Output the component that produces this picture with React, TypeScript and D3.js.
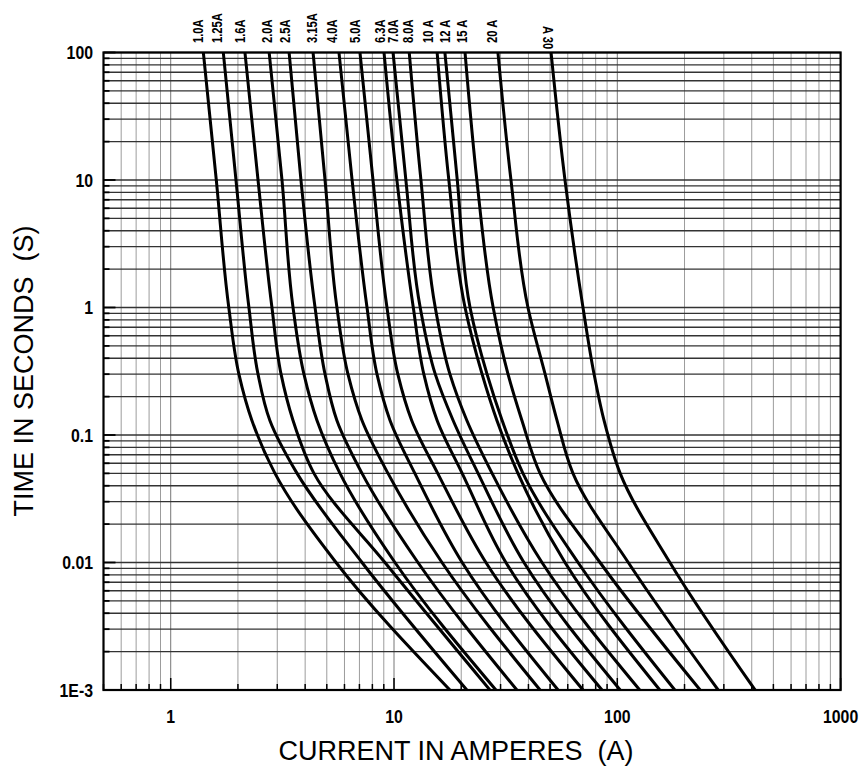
import React from "react";
import * as d3 from "d3";

const TIMES = [100, 10, 1, 0.3, 0.13, 0.05, 0.01, 0.001];

// Current (A) per fuse rating at the TIMES above
const I_1_0A = [1.40, 1.60, 1.82, 2.02, 2.31, 2.93, 5.50, 17.8];
const I_1_25A = [1.72, 1.96, 2.24, 2.46, 2.78, 3.68, 7.19, 21.2];
const I_1_6A = [2.15, 2.46, 2.84, 3.12, 3.53, 4.38, 9.11, 26.9];
const I_2_0A = [2.76, 3.15, 3.53, 3.95, 4.52, 5.73, 10.1, 28.6];
const I_2_5A = [3.39, 3.83, 4.43, 4.91, 5.55, 7.19, 12.8, 35.5];
const I_3_15A = [4.34, 4.91, 5.55, 6.22, 7.19, 9.40, 16.4, 45.1];
const I_4_0A = [5.67, 6.49, 7.57, 8.39, 9.60, 12.4, 20.2, 54.3];
const I_5_0A = [7.04, 8.05, 9.30, 10.4, 12.0, 15.7, 25.8, 70.2];
const I_6_3A = [9.02, 10.3, 12.2, 13.6, 15.6, 20.2, 31.7, 85.4];
const I_7_0A = [9.90, 11.3, 13.1, 15.3, 18.4, 23.8, 38.2, 103];
const I_8_0A = [11.7, 13.2, 15.3, 17.8, 21.2, 27.5, 46.0, 126];
const I_10A = [15.6, 17.6, 20.8, 24.8, 28.9, 35.9, 58.3, 155];
const I_12A = [16.9, 19.2, 21.9, 26.1, 30.5, 37.8, 66.7, 181];
const I_15A = [20.8, 23.5, 27.8, 32.4, 37.4, 45.1, 83.7, 235];
const I_20A = [29.2, 33.4, 39.8, 47.5, 53.7, 63.3, 112, 283];
const I_30A = [50.5, 58.3, 70.2, 78.7, 87.2, 103, 172, 414];

const FUSE_LABELS = [
  "1.0A", "1.25A", "1.6A", "2.0A", "2.5A", "3.15A", "4.0A", "5.0A",
  "6.3A", "7.0A", "8.0A", "10 A", "12 A", "15 A", "20 A", "A 30",
];
// Current (A) above which each rating label is centred
const LABEL_CURRENTS = [
  1.33, 1.61, 2.04, 2.70, 3.25, 4.29, 5.28, 6.69,
  8.66, 9.90, 11.55, 14.2, 16.9, 20.2, 27.5, 48.9,
];
const FUSE_CURRENTS = [
  I_1_0A, I_1_25A, I_1_6A, I_2_0A, I_2_5A, I_3_15A, I_4_0A, I_5_0A,
  I_6_3A, I_7_0A, I_8_0A, I_10A, I_12A, I_15A, I_20A, I_30A,
];

const X_TICKS = [1, 10, 100, 1000];
const X_TICK_LABELS = ["1", "10", "100", "1000"];
const Y_TICKS = [100, 10, 1, 0.1, 0.01, 0.001];
const Y_TICK_LABELS = ["100", "10", "1", "0.1", "0.01", "1E-3"];

const X_TITLE = "CURRENT IN AMPERES\u00A0\u00A0(A)";
const Y_TITLE = "TIME IN SECONDS\u00A0\u00A0(S)";

const W = 861;
const H = 770;
const L = 103.5;
const R = 840.6;
const T = 52.5;
const B = 690;

export default function App() {
  const x = d3.scaleLog().domain([0.5, 1000]).range([L, R]);
  const y = d3.scaleLog().domain([100, 0.001]).range([T, B]);

  const xGrid: number[] = [];
  [0.1, 1, 10, 100].forEach((d) => {
    for (let k = 1; k <= 9; k++) {
      const v = +(k * d).toPrecision(3);
      if (v >= 0.5 && v <= 1000) xGrid.push(v);
    }
  });
  xGrid.push(1000);
  const yGrid: number[] = [];
  [0.001, 0.01, 0.1, 1, 10].forEach((d) => {
    for (let k = 1; k <= 9; k++) yGrid.push(+(k * d).toPrecision(3));
  });
  yGrid.push(100);

  const isMajor = (v: number) => Math.abs(Math.log10(v) - Math.round(Math.log10(v))) < 1e-6;

  const line = d3
    .line<[number, number]>()
    .x((d) => x(d[0]))
    .y((d) => y(d[1]))
    .curve(d3.curveMonotoneY);

  const font = "'Liberation Sans', Arial, sans-serif";

  return (
    <svg
      width={W}
      height={H}
      style={{ position: "fixed", left: 0, top: 0, background: "#fff" }}
      fontFamily={font}
    >
      <rect x={0} y={0} width={W} height={H} fill="#fff" />
      <defs>
        <clipPath id="plot">
          <rect x={L} y={T} width={R - L} height={B - T} />
        </clipPath>
      </defs>

      {/* vertical grid */}
      {xGrid.map((v, i) => (
        <line
          key={"vx" + i}
          x1={x(v)}
          x2={x(v)}
          y1={T}
          y2={B}
          stroke={isMajor(v) ? "#777" : "#9c9c9c"}
          strokeWidth={1}
        />
      ))}
      {/* horizontal grid */}
      {yGrid.map((v, i) => (
        <line
          key={"hy" + i}
          x1={L}
          x2={R}
          y1={y(v)}
          y2={y(v)}
          stroke="#333"
          strokeWidth={1.4}
        />
      ))}

      {/* ticks bottom */}
      {xGrid.map((v, i) => (
        <line
          key={"tx" + i}
          x1={x(v)}
          x2={x(v)}
          y1={B}
          y2={B - (isMajor(v) ? 12 : 6)}
          stroke="#000"
          strokeWidth={1.5}
        />
      ))}
      {/* ticks left */}
      {yGrid.map((v, i) => (
        <line
          key={"ty" + i}
          x1={L}
          x2={L + (isMajor(v) ? 12 : 6)}
          y1={y(v)}
          y2={y(v)}
          stroke="#000"
          strokeWidth={1.8}
        />
      ))}

      {/* curves */}
      <g clipPath="url(#plot)">
        {FUSE_CURRENTS.map((cs, i) => (
          <path
            key={"c" + i}
            d={line(cs.map((c, j) => [c, TIMES[j]] as [number, number])) || ""}
            fill="none"
            stroke="#000"
            strokeWidth={3}
            strokeLinejoin="round"
          />
        ))}
      </g>

      {/* frame */}
      <rect x={L} y={T} width={R - L} height={B - T} fill="none" stroke="#000" strokeWidth={2.2} />

      {/* fuse labels */}
      {FUSE_LABELS.map((lab, i) => {
        const cx = x(LABEL_CURRENTS[i]);
        const flipped = lab.startsWith("A");
        return flipped ? (
          <text
            key={"l" + i}
            transform={`translate(${cx - 5},${26}) rotate(90) scale(0.8,1)`}
            fontSize={14}
            fontWeight="bold"
            fill="#000"
          >
            {lab}
          </text>
        ) : (
          <text
            key={"l" + i}
            transform={`translate(${cx + 5},${43}) rotate(-90) scale(0.8,1)`}
            fontSize={14}
            fontWeight="bold"
            fill="#000"
          >
            {lab}
          </text>
        );
      })}

      {/* y tick labels */}
      {Y_TICKS.map((v, i) => (
        <text
          key={"yl" + i}
          transform={`translate(93,${y(v) + 6.5}) scale(0.88,1)`}
          textAnchor="end"
          fontSize={18}
          fontWeight="bold"
          fill="#000"
        >
          {Y_TICK_LABELS[i]}
        </text>
      ))}
      {/* x tick labels */}
      {X_TICKS.map((v, i) => (
        <text
          key={"xl" + i}
          transform={`translate(${x(v)},723) scale(0.88,1)`}
          textAnchor="middle"
          fontSize={18}
          fontWeight="bold"
          fill="#000"
        >
          {X_TICK_LABELS[i]}
        </text>
      ))}

      {/* axis titles */}
      <text x={456} y={760} textAnchor="middle" fontSize={27} fill="#000">
        {X_TITLE}
      </text>
      <text
        transform={`translate(33,371) rotate(-90)`}
        textAnchor="middle"
        fontSize={27}
        fill="#000"
      >
        {Y_TITLE}
      </text>
    </svg>
  );
}
